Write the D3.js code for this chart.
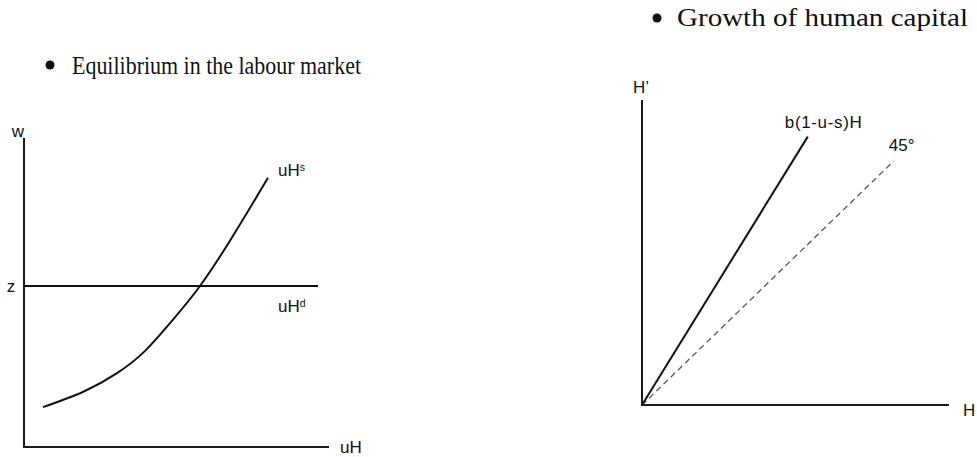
<!DOCTYPE html>
<html>
<head>
<meta charset="utf-8">
<script src="https://cdnjs.cloudflare.com/ajax/libs/d3/7.8.5/d3.min.js"></script>
<style>
    body { margin: 0; background: #fff; }
    .title { font-family: 'Liberation Serif', serif; font-size: 25px; fill: #111; }
    .lbl { font-family: 'Liberation Sans', Arial, sans-serif; fill: #111; }
    .axis { stroke: #1a1a1a; stroke-width: 2; fill: none; }
    .curve { stroke: #111; stroke-width: 2; fill: none; }
    .dash { stroke: #555; stroke-width: 1.3; fill: none; stroke-dasharray: 6,4; }
</style>
</head>
<body>
<svg id="chart" width="977" height="457"></svg>
<script>
    // panel titles
    var titles = ['Equilibrium in the labour market', 'Growth of human capital'];

    // labour market (left panel), data units 0..10
    var supplyCurve = [[0.62, 1.29], [1.93, 1.78], [3.05, 2.39], [3.97, 3.11], [4.85, 4.08], [5.77, 5.21], [6.85, 6.83], [8.0, 8.71]];
    var wageLevel = 5.21;         // z
    var demandEnd = 9.64;         // where the flat uH^d line stops

    // human capital (right panel), data units 0..10
    var growthLine = [[0, 0], [5.4, 8.8]];    // b(1-u-s)H
    var diagonal = [[0, 0], [8.2, 8.0]];      // 45 degree line

    var axisMax = 10;

    var svg = d3.select('#chart');

    //scales
    var xL = d3.scaleLinear().domain([0, axisMax]).range([24, 329]);
    var yL = d3.scaleLinear().domain([0, axisMax]).range([447, 138]);
    var xR = d3.scaleLinear().domain([0, axisMax]).range([642, 949]);
    var yR = d3.scaleLinear().domain([0, axisMax]).range([405, 100]);

    //titles with bullets
    var titlePos = [{x: 72, y: 74, end: 361, bx: 50, by: 65}, {x: 677, y: 26, end: 968, bx: 657, by: 18}];
    titles.forEach(function (t, i) {
        var p = titlePos[i];
        svg.append('circle')
            .attr('cx', p.bx).attr('cy', p.by).attr('r', 4.5)
            .style('fill', '#111');
        svg.append('text')
            .attr('class', 'title')
            .attr('x', p.x).attr('y', p.y)
            .attr('textLength', p.end - p.x)
            .attr('lengthAdjust', 'spacingAndGlyphs')
            .text(t);
    });

    //left panel axes
    svg.append('path')
        .attr('class', 'axis')
        .attr('d', 'M' + xL(0) + ',' + yL(axisMax) + 'L' + xL(0) + ',' + yL(0) + 'L' + xL(axisMax) + ',' + yL(0));

    //z line (uH^d)
    svg.append('line')
        .attr('class', 'curve')
        .attr('x1', xL(0)).attr('x2', xL(demandEnd))
        .attr('y1', yL(wageLevel)).attr('y2', yL(wageLevel));

    //supply curve
    var lineL = d3.line()
        .x(function (d) { return xL(d[0]); })
        .y(function (d) { return yL(d[1]); })
        .curve(d3.curveNatural);
    svg.append('path')
        .attr('class', 'curve')
        .attr('d', lineL(supplyCurve));

    //right panel axes
    svg.append('path')
        .attr('class', 'axis')
        .attr('d', 'M' + xR(0) + ',' + yR(axisMax) + 'L' + xR(0) + ',' + yR(0) + 'L' + xR(axisMax) + ',' + yR(0));

    var lineR = d3.line()
        .x(function (d) { return xR(d[0]); })
        .y(function (d) { return yR(d[1]); });
    svg.append('path')
        .attr('class', 'dash')
        .attr('d', lineR(diagonal));
    svg.append('path')
        .attr('class', 'curve')
        .attr('d', lineR(growthLine));

    //labels
    function label(x, y, main, sup, size) {
        var t = svg.append('text')
            .attr('class', 'lbl')
            .attr('x', x).attr('y', y)
            .style('font-size', size + 'px');
        t.append('tspan').text(main);
        if (sup) {
            t.append('tspan')
                .attr('dy', -5)
                .style('font-size', (size * 0.62) + 'px')
                .text(sup);
        }
        return t;
    }

    label(xL(0) - 6, yL(axisMax) - 1, 'w', null, 17).attr('text-anchor', 'middle');
    label(xL(0) - 13, yL(wageLevel) + 6, 'z', null, 17).attr('text-anchor', 'middle');
    label(xL(supplyCurve[supplyCurve.length - 1][0]) + 10, yL(supplyCurve[supplyCurve.length - 1][1]) - 2, 'uH', 's', 17);
    label(278, yL(wageLevel) + 26, 'uH', 'd', 17);
    label(xL(axisMax) + 11, yL(0) + 6, 'uH', null, 17);

    label(xR(0) - 9, yR(axisMax) - 7, 'H\u2019', null, 17);
    label(xR(growthLine[1][0]) - 23, yR(growthLine[1][1]) - 9, 'b(1-u-s)H', null, 17)
        .attr('textLength', 77).attr('lengthAdjust', 'spacing');
    label(xR(diagonal[1][0]) - 5, yR(diagonal[1][1]) - 10, '45\u00b0', null, 17);
    label(xR(axisMax) + 14, yR(0) + 11, 'H', null, 17);
</script>
</body>
</html>
